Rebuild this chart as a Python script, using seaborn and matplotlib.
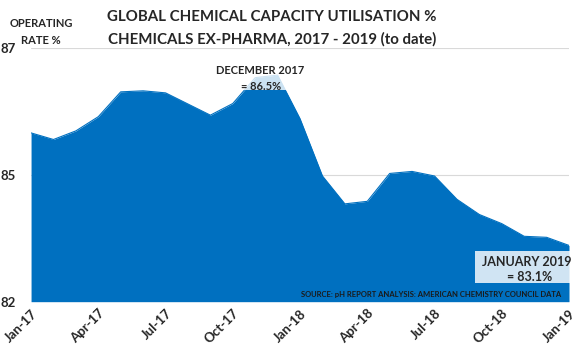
import pandas as pd
import matplotlib.pyplot as plt
import seaborn as sns
from matplotlib.patches import Rectangle

sns.set_style("white")
plt.rcParams['font.family'] = ['Lato', 'DejaVu Sans']

# Monthly operating rate, chemicals ex-pharma (%)
months = pd.date_range('2017-01-01', '2019-01-01', freq='MS')
month_labels = [m.strftime('%b-%y') for m in months]
rate = [85.33, 85.20, 85.37, 85.65, 86.14, 86.16, 86.12, 85.90, 85.68, 85.91,
        86.42, 86.47, 85.61, 84.48, 83.93, 83.98, 84.53, 84.57, 84.48, 84.02,
        83.72, 83.54, 83.29, 83.27, 83.11]

df = pd.DataFrame({'month': month_labels, 'rate': rate})
df['idx'] = range(len(df))

ytick_pos = [82, 84.5, 87]
ytick_labels = ['82', '85', '87']

blue = '#0070C0'

fig = plt.figure(figsize=(5.86, 3.51), dpi=100)
ax = fig.add_axes([0.053, 0.1405, 0.918, 0.722])

ax.fill_between(df['idx'], 82, df['rate'], color=blue, linewidth=0, zorder=2)
sns.lineplot(data=df, x='idx', y='rate', ax=ax, color=blue, linewidth=0.8, zorder=3)

ax.set_xlim(0, len(df) - 1)
ax.set_ylim(82, 87)
ax.set_yticks(ytick_pos)
ax.set_yticklabels(ytick_labels, fontweight='bold', fontsize=9.5)
ax.set_xticks(df['idx'][::3])
ax.set_xticklabels(df['month'][::3], rotation=45, ha='right', va='top',
                   rotation_mode='anchor', fontweight='bold', fontsize=9.5)
ax.tick_params(axis='y', length=0, pad=11)
ax.tick_params(axis='x', length=0, pad=4)
ax.set_xlabel('')
ax.set_ylabel('')
ax.yaxis.grid(True, color='#d9d9d9', linewidth=0.8, zorder=0)
ax.set_axisbelow(True)
for s in ax.spines.values():
    s.set_visible(False)

# Annotation boxes (semi-transparent white over the area)
ax.add_patch(Rectangle((0.338, 0.834), 0.175, 0.13, transform=ax.transAxes,
                       facecolor='white', alpha=0.8, linewidth=0, zorder=4))
ax.text(0.426, 0.914, 'DECEMBER 2017', transform=ax.transAxes, ha='center',
        va='center', fontsize=8, fontweight='bold', zorder=5)
ax.text(0.428, 0.851, '= 86.5%', transform=ax.transAxes, ha='center',
        va='center', fontsize=8, fontweight='bold', zorder=5)

ax.add_patch(Rectangle((0.825, 0.074), 0.177, 0.126, transform=ax.transAxes,
                       facecolor='white', alpha=0.82, linewidth=0, zorder=4,
                       clip_on=False))
ax.text(0.922, 0.157, 'JANUARY 2019', transform=ax.transAxes, ha='center',
        va='center', fontsize=9, fontweight='bold', zorder=5)
ax.text(0.926, 0.098, '= 83.1%', transform=ax.transAxes, ha='center',
        va='center', fontsize=9, fontweight='bold', zorder=5)

ax.text(0.985, 0.03, 'SOURCE: pH REPORT ANALYSIS: AMERICAN CHEMISTRY COUNCIL DATA',
        transform=ax.transAxes, ha='right', va='center', fontsize=5.5,
        fontweight='bold', color='#1a1a1a', zorder=5)

# Titles
fig.text(0.464, 0.951, 'GLOBAL CHEMICAL CAPACITY UTILISATION %', ha='center',
         va='center', fontsize=10.8, fontweight='bold')
fig.text(0.464, 0.889, 'CHEMICALS EX-PHARMA, 2017 - 2019 (to date)', ha='center',
         va='center', fontsize=10.8, fontweight='bold')
fig.text(0.07, 0.932, 'OPERATING', ha='center', va='center', fontsize=8,
         fontweight='bold')
fig.text(0.07, 0.884, 'RATE %', ha='center', va='center', fontsize=8,
         fontweight='bold')

plt.savefig('out.png', dpi=100)
